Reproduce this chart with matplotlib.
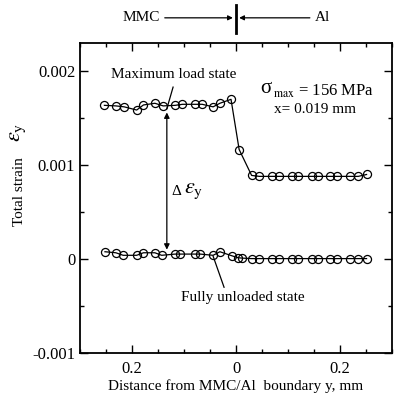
import matplotlib.pyplot as plt
from matplotlib.ticker import MultipleLocator, FixedLocator, FixedFormatter

plt.rcParams['font.family'] = ['Liberation Serif', 'DejaVu Serif']
plt.rcParams['mathtext.fontset'] = 'stix'

# maximum load state (distance y in mm, MMC side negative)
y_max = [-0.253, -0.231, -0.215, -0.191, -0.178, -0.156, -0.140, -0.117, -0.103,
         -0.079, -0.065, -0.044, -0.031, -0.0096, 0.006,
         0.030, 0.045, 0.069, 0.083, 0.107, 0.120, 0.146, 0.158, 0.181, 0.195,
         0.220, 0.235, 0.251]
eps_max = [0.001636, 0.00163, 0.00162, 0.001586, 0.00164, 0.001658, 0.00163, 0.001636,
           0.001647, 0.001647, 0.001647, 0.00162, 0.001658, 0.00170, 0.001166,
           0.00089, 0.00088, 0.00088, 0.00088, 0.00088, 0.00088, 0.00088, 0.00088,
           0.00088, 0.00088, 0.00088, 0.00088, 0.0009]

# fully unloaded state
y_unl = [-0.252, -0.231, -0.217, -0.191, -0.178, -0.156, -0.143, -0.117, -0.108,
         -0.079, -0.069, -0.044, -0.031, -0.008, 0.004, 0.012,
         0.030, 0.045, 0.069, 0.083, 0.107, 0.120, 0.146, 0.158, 0.181, 0.195,
         0.220, 0.235, 0.251]
eps_unl = [0.000078, 0.000067, 0.00004, 0.00004, 0.000067, 0.000067, 0.00004, 0.000053,
           0.000053, 0.000053, 0.000053, 0.00004, 0.000078, 0.000035, 0.000014, 0.00001,
           0.000005, 0.000005, 0.000005, 0.000005, 0.000005, 0.000005, 0.000005,
           0.000005, 0.000005, 0.000005, 0.000005, 0.000005, 0.000005]

xtick_pos = [-0.2, 0, 0.2]
xtick_lab = ['0.2', '0', '0.2']
ytick_pos = [-0.001, 0, 0.001, 0.002]
ytick_lab = ['-0.001', '0', '0.001', '0.002']

fig = plt.figure(figsize=(3.95, 3.94), dpi=100)
ax = fig.add_axes([0.2025, 0.104, 0.790, 0.787])

mk = dict(marker='o', mfc='none', mec='black', ms=5.8, mew=0.9, color='black', lw=0.9)
ax.plot(y_max, eps_max, **mk)
ax.plot(y_unl, eps_unl, **mk)

ax.set_xlim(-0.3, 0.3)
ax.set_ylim(-0.001, 0.0023)
ax.xaxis.set_major_locator(FixedLocator(xtick_pos))
ax.xaxis.set_major_formatter(FixedFormatter(xtick_lab))
ax.xaxis.set_minor_locator(MultipleLocator(0.05))
ax.yaxis.set_major_locator(FixedLocator(ytick_pos))
ax.yaxis.set_major_formatter(FixedFormatter(ytick_lab))
ax.yaxis.set_minor_locator(MultipleLocator(0.0005))
ax.tick_params(which='both', direction='in', top=True, right=True, labelsize=12)
ax.tick_params(which='major', length=6, width=1)
ax.tick_params(which='minor', length=3, width=1)
ax.tick_params(axis='x', pad=6)
for s in ax.spines.values():
    s.set_linewidth(1.3)

# annotations
ax.text(-0.119, 0.00196, 'Maximum load state', ha='center', va='center', fontsize=11)
ax.plot([-0.121, -0.133], [0.00183, 0.00160], color='black', lw=0.9)
ax.annotate('', xy=(-0.133, 0.00156), xytext=(-0.133, 0.0001),
            arrowprops=dict(arrowstyle='<|-|>', color='black', lw=0.9,
                            mutation_scale=8, shrinkA=0, shrinkB=0))
ax.text(-0.125, 0.00072, 'Δ', ha='left', va='center', fontsize=11)
ax.text(-0.100, 0.00072, r'$\varepsilon_{\rm y}$', ha='left', va='center', fontsize=16)
ax.text(0.046, 0.00181, 'σ', ha='left', va='center', fontsize=15)
ax.text(0.071, 0.00179, r'$_{\rm max}$ = 156 MPa', ha='left', va='center', fontsize=12)
ax.text(0.152, 0.00159, 'x= 0.019 mm', ha='center', va='center', fontsize=11)
ax.text(0.0135, -0.00041, 'Fully unloaded state', ha='center', va='center', fontsize=11)
ax.plot([-0.044, -0.023], [0.00003, -0.0003], color='black', lw=0.9)

# MMC / Al marker above the plot
tr = ax.get_xaxis_transform()
ax.plot([0, 0], [1.032, 1.123], transform=tr, color='black', lw=2, clip_on=False)
ax.annotate('', xy=(-0.006, 1.081), xytext=(-0.137, 1.081), xycoords=tr, textcoords=tr,
            arrowprops=dict(arrowstyle='-|>', color='black', lw=0.9, mutation_scale=7,
                            shrinkA=0, shrinkB=0))
ax.annotate('', xy=(0.006, 1.081), xytext=(0.142, 1.081), xycoords=tr, textcoords=tr,
            arrowprops=dict(arrowstyle='-|>', color='black', lw=0.9, mutation_scale=7,
                            shrinkA=0, shrinkB=0))
ax.text(-0.146, 1.081, 'MMC', transform=tr, ha='right', va='center', fontsize=11)
ax.text(0.152, 1.081, 'Al', transform=tr, ha='left', va='center', fontsize=11)

ax.set_xlabel('Distance from MMC/Al  boundary y, mm', fontsize=11, labelpad=1)
fig.text(0.05, 0.513, 'Total strain', rotation=90, ha='center', va='center', fontsize=11)
fig.text(0.045, 0.665, r'$\varepsilon_{\rm y}$', rotation=90, ha='center', va='center', fontsize=16)

fig.savefig('out.png', dpi=100)
